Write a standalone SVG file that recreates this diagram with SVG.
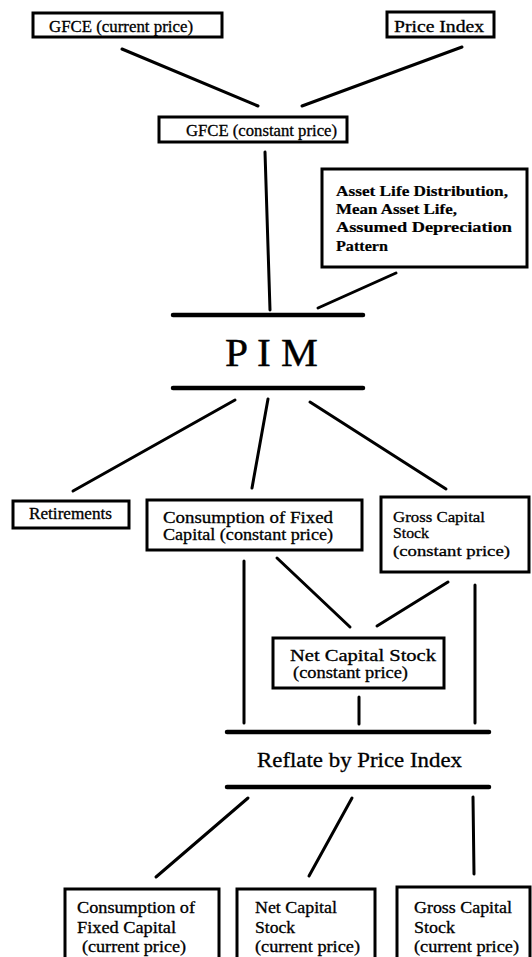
<svg xmlns="http://www.w3.org/2000/svg" width="532" height="957" viewBox="0 0 532 957">
<style>
.box{fill:#fff;stroke:#000;stroke-width:3}
.t{font-family:"Liberation Serif","Times New Roman",serif;font-size:16px;fill:#000;stroke:#000;stroke-width:0.3}
.s{font-size:15px}
.b{font-weight:bold;font-size:15px;stroke-width:0.2}
.c{stroke:#000;stroke-width:3;stroke-linecap:round;fill:none}
.bar{stroke:#000;stroke-width:4.5;stroke-linecap:round}
</style>
<rect width="532" height="957" fill="#fff"/>
<g id="connectors">
<line class="c" x1="122" y1="49" x2="258" y2="106"/>
<line class="c" x1="462" y1="47" x2="302" y2="106"/>
<line class="c" x1="265" y1="152" x2="270" y2="310"/>
<line class="c" x1="396" y1="273" x2="318" y2="308"/>
<line class="c" x1="235" y1="400" x2="73" y2="491"/>
<line class="c" x1="268" y1="399" x2="252" y2="488"/>
<line class="c" x1="310" y1="402" x2="446" y2="489"/>
<line class="c" x1="244" y1="561" x2="244" y2="723"/>
<line class="c" x1="277" y1="558" x2="350" y2="627"/>
<line class="c" x1="448" y1="582" x2="377" y2="626"/>
<line class="c" x1="475" y1="585" x2="475" y2="723"/>
<line class="c" x1="359" y1="697" x2="359" y2="724"/>
<line class="c" x1="248" y1="798" x2="156" y2="877"/>
<line class="c" x1="352" y1="798" x2="309" y2="876"/>
<line class="c" x1="473" y1="797" x2="474" y2="874"/>
</g>
<g id="gfce-current">
<rect class="box" x="33" y="13" width="189" height="24"/>
<text class="t" x="49" y="32" textLength="144" lengthAdjust="spacingAndGlyphs">GFCE (current price)</text>
</g>
<g id="price-index">
<rect class="box" x="387" y="12" width="107" height="25"/>
<text class="t" x="394" y="32" textLength="90" lengthAdjust="spacingAndGlyphs">Price Index</text>
</g>
<g id="gfce-constant">
<rect class="box" x="159" y="117" width="188" height="25"/>
<text class="t" x="186" y="136" textLength="151" lengthAdjust="spacingAndGlyphs">GFCE (constant price)</text>
</g>
<g id="asset-life">
<rect class="box" x="322" y="169" width="205" height="98"/>
<text class="t b" x="336" y="196" textLength="172" lengthAdjust="spacingAndGlyphs">Asset Life Distribution,</text>
<text class="t b" x="336" y="214" textLength="121" lengthAdjust="spacingAndGlyphs">Mean Asset Life,</text>
<text class="t b" x="336" y="232" textLength="176" lengthAdjust="spacingAndGlyphs">Assumed Depreciation</text>
<text class="t b" x="336" y="251" textLength="52" lengthAdjust="spacingAndGlyphs">Pattern</text>
</g>
<g id="pim">
<line class="bar" x1="173" y1="315" x2="363" y2="315"/>
<text class="t" x="225" y="366" textLength="93" lengthAdjust="spacingAndGlyphs" style="font-size:40px;stroke-width:0.4">P I M</text>
<line class="bar" x1="173" y1="388" x2="363" y2="388"/>
</g>
<g id="retirements">
<rect class="box" x="13" y="501" width="116" height="27"/>
<text class="t" x="29" y="519" textLength="83" lengthAdjust="spacingAndGlyphs">Retirements</text>
</g>
<g id="cfc-constant">
<rect class="box" x="147" y="500" width="215" height="50"/>
<text class="t" x="163" y="523" textLength="170" lengthAdjust="spacingAndGlyphs">Consumption of Fixed</text>
<text class="t" x="163" y="540" textLength="170" lengthAdjust="spacingAndGlyphs">Capital (constant price)</text>
</g>
<g id="gcs-constant">
<rect class="box" x="381" y="497" width="148" height="75"/>
<text class="t s" x="393" y="522" textLength="92" lengthAdjust="spacingAndGlyphs">Gross Capital</text>
<text class="t s" x="393" y="538" textLength="36" lengthAdjust="spacingAndGlyphs">Stock</text>
<text class="t s" x="393" y="556" textLength="117" lengthAdjust="spacingAndGlyphs">(constant price)</text>
</g>
<g id="ncs-constant">
<rect class="box" x="273" y="638" width="171" height="50"/>
<text class="t" x="290" y="661" textLength="146" lengthAdjust="spacingAndGlyphs">Net Capital Stock</text>
<text class="t" x="293" y="678" textLength="115" lengthAdjust="spacingAndGlyphs">(constant price)</text>
</g>
<g id="reflate">
<line class="bar" x1="227" y1="732" x2="489" y2="732"/>
<text class="t" x="257" y="767" textLength="205" lengthAdjust="spacingAndGlyphs" style="font-size:20px">Reflate by Price Index</text>
<line class="bar" x1="227" y1="787" x2="489" y2="787"/>
</g>
<g id="cfc-current">
<rect class="box" x="65" y="889" width="154" height="80"/>
<text class="t" x="77" y="913" textLength="118" lengthAdjust="spacingAndGlyphs">Consumption of</text>
<text class="t" x="77" y="933" textLength="99" lengthAdjust="spacingAndGlyphs">Fixed Capital</text>
<text class="t" x="82" y="952" textLength="104" lengthAdjust="spacingAndGlyphs">(current price)</text>
</g>
<g id="ncs-current">
<rect class="box" x="237" y="889" width="138" height="80"/>
<text class="t" x="255" y="913" textLength="82" lengthAdjust="spacingAndGlyphs">Net Capital</text>
<text class="t" x="255" y="933" textLength="40" lengthAdjust="spacingAndGlyphs">Stock</text>
<text class="t" x="255" y="952" textLength="105" lengthAdjust="spacingAndGlyphs">(current price)</text>
</g>
<g id="gcs-current">
<rect class="box" x="397" y="887" width="133" height="82"/>
<text class="t" x="414" y="913" textLength="98" lengthAdjust="spacingAndGlyphs">Gross Capital</text>
<text class="t" x="414" y="933" textLength="41" lengthAdjust="spacingAndGlyphs">Stock</text>
<text class="t" x="414" y="952" textLength="105" lengthAdjust="spacingAndGlyphs">(current price)</text>
</g>
</svg>
